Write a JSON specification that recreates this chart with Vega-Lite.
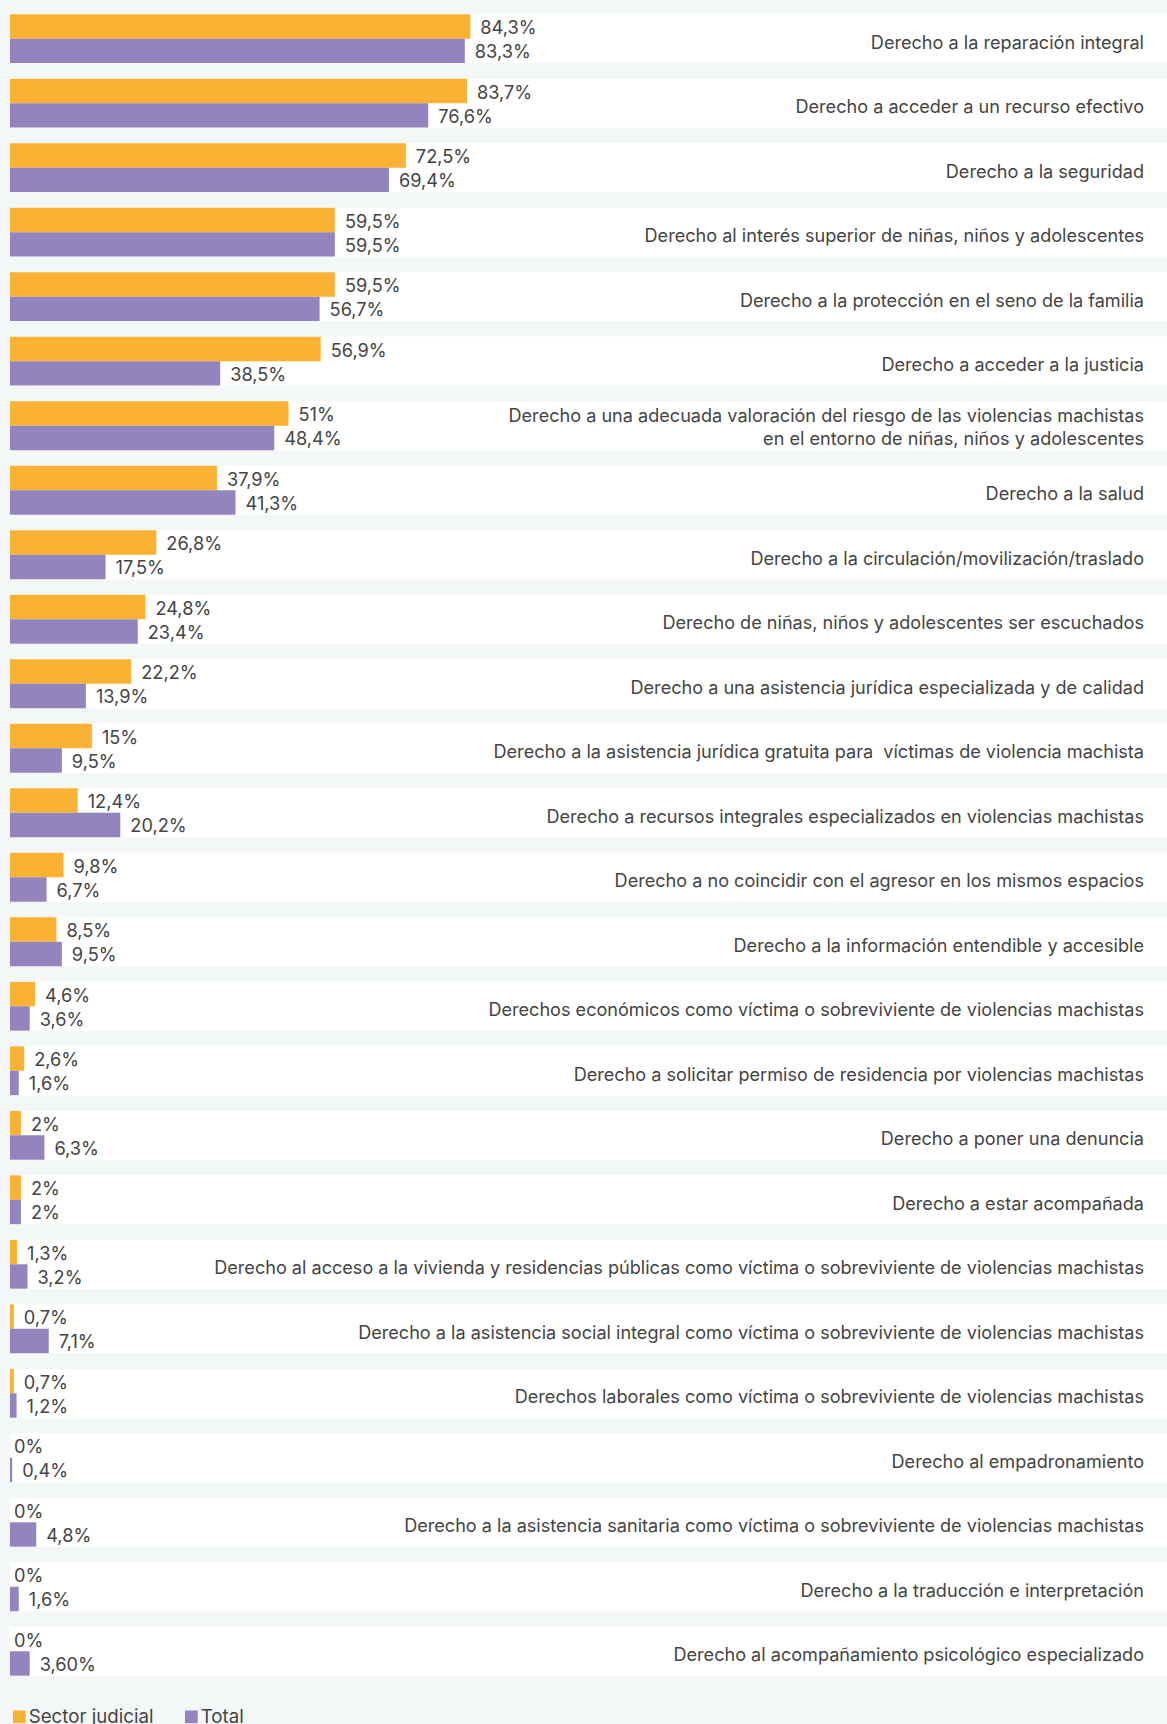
{
  "$schema": "https://vega.github.io/schema/vega-lite/v6.json",
  "width": 1157,
  "height": 1690,
  "padding": {"left": 10, "top": 0, "right": 0, "bottom": 34},
  "autosize": {"type": "none"},
  "background": "#F4F7F7",
  "config": {"view": {"stroke": null}, "font": "Inter"},
  "data": {"values": [
    {"c": "Derecho a la reparación integral", "s": "Sector judicial", "v": 84.3, "t": "84,3%"},
    {"c": "Derecho a la reparación integral", "s": "Total", "v": 83.3, "t": "83,3%"},
    {"c": "Derecho a acceder a un recurso efectivo", "s": "Sector judicial", "v": 83.7, "t": "83,7%"},
    {"c": "Derecho a acceder a un recurso efectivo", "s": "Total", "v": 76.6, "t": "76,6%"},
    {"c": "Derecho a la seguridad", "s": "Sector judicial", "v": 72.5, "t": "72,5%"},
    {"c": "Derecho a la seguridad", "s": "Total", "v": 69.4, "t": "69,4%"},
    {"c": "Derecho al interés superior de niñas, niños y adolescentes", "s": "Sector judicial", "v": 59.5, "t": "59,5%"},
    {"c": "Derecho al interés superior de niñas, niños y adolescentes", "s": "Total", "v": 59.5, "t": "59,5%"},
    {"c": "Derecho a la protección en el seno de la familia", "s": "Sector judicial", "v": 59.5, "t": "59,5%"},
    {"c": "Derecho a la protección en el seno de la familia", "s": "Total", "v": 56.7, "t": "56,7%"},
    {"c": "Derecho a acceder a la justicia", "s": "Sector judicial", "v": 56.9, "t": "56,9%"},
    {"c": "Derecho a acceder a la justicia", "s": "Total", "v": 38.5, "t": "38,5%"},
    {"c": "Derecho a una adecuada valoración del riesgo de las violencias machistas|en el entorno de niñas, niños y adolescentes", "s": "Sector judicial", "v": 51, "t": "51%"},
    {"c": "Derecho a una adecuada valoración del riesgo de las violencias machistas|en el entorno de niñas, niños y adolescentes", "s": "Total", "v": 48.4, "t": "48,4%"},
    {"c": "Derecho a la salud", "s": "Sector judicial", "v": 37.9, "t": "37,9%"},
    {"c": "Derecho a la salud", "s": "Total", "v": 41.3, "t": "41,3%"},
    {"c": "Derecho a la circulación/movilización/traslado", "s": "Sector judicial", "v": 26.8, "t": "26,8%"},
    {"c": "Derecho a la circulación/movilización/traslado", "s": "Total", "v": 17.5, "t": "17,5%"},
    {"c": "Derecho de niñas, niños y adolescentes ser escuchados", "s": "Sector judicial", "v": 24.8, "t": "24,8%"},
    {"c": "Derecho de niñas, niños y adolescentes ser escuchados", "s": "Total", "v": 23.4, "t": "23,4%"},
    {"c": "Derecho a una asistencia jurídica especializada y de calidad", "s": "Sector judicial", "v": 22.2, "t": "22,2%"},
    {"c": "Derecho a una asistencia jurídica especializada y de calidad", "s": "Total", "v": 13.9, "t": "13,9%"},
    {"c": "Derecho a la asistencia jurídica gratuita para\u00a0 víctimas de violencia machista", "s": "Sector judicial", "v": 15, "t": "15%"},
    {"c": "Derecho a la asistencia jurídica gratuita para\u00a0 víctimas de violencia machista", "s": "Total", "v": 9.5, "t": "9,5%"},
    {"c": "Derecho a recursos integrales especializados en violencias machistas", "s": "Sector judicial", "v": 12.4, "t": "12,4%"},
    {"c": "Derecho a recursos integrales especializados en violencias machistas", "s": "Total", "v": 20.2, "t": "20,2%"},
    {"c": "Derecho a no coincidir con el agresor en los mismos espacios", "s": "Sector judicial", "v": 9.8, "t": "9,8%"},
    {"c": "Derecho a no coincidir con el agresor en los mismos espacios", "s": "Total", "v": 6.7, "t": "6,7%"},
    {"c": "Derecho a la información entendible y accesible", "s": "Sector judicial", "v": 8.5, "t": "8,5%"},
    {"c": "Derecho a la información entendible y accesible", "s": "Total", "v": 9.5, "t": "9,5%"},
    {"c": "Derechos económicos como víctima o sobreviviente de violencias machistas", "s": "Sector judicial", "v": 4.6, "t": "4,6%"},
    {"c": "Derechos económicos como víctima o sobreviviente de violencias machistas", "s": "Total", "v": 3.6, "t": "3,6%"},
    {"c": "Derecho a solicitar permiso de residencia por violencias machistas", "s": "Sector judicial", "v": 2.6, "t": "2,6%"},
    {"c": "Derecho a solicitar permiso de residencia por violencias machistas", "s": "Total", "v": 1.6, "t": "1,6%"},
    {"c": "Derecho a poner una denuncia", "s": "Sector judicial", "v": 2, "t": "2%"},
    {"c": "Derecho a poner una denuncia", "s": "Total", "v": 6.3, "t": "6,3%"},
    {"c": "Derecho a estar acompañada", "s": "Sector judicial", "v": 2, "t": "2%"},
    {"c": "Derecho a estar acompañada", "s": "Total", "v": 2, "t": "2%"},
    {"c": "Derecho al acceso a la vivienda y residencias públicas como víctima o sobreviviente de violencias machistas", "s": "Sector judicial", "v": 1.3, "t": "1,3%"},
    {"c": "Derecho al acceso a la vivienda y residencias públicas como víctima o sobreviviente de violencias machistas", "s": "Total", "v": 3.2, "t": "3,2%"},
    {"c": "Derecho a la asistencia social integral como víctima o sobreviviente de violencias machistas", "s": "Sector judicial", "v": 0.7, "t": "0,7%"},
    {"c": "Derecho a la asistencia social integral como víctima o sobreviviente de violencias machistas", "s": "Total", "v": 7.1, "t": "7,1%"},
    {"c": "Derechos laborales como víctima o sobreviviente de violencias machistas", "s": "Sector judicial", "v": 0.7, "t": "0,7%"},
    {"c": "Derechos laborales como víctima o sobreviviente de violencias machistas", "s": "Total", "v": 1.2, "t": "1,2%"},
    {"c": "Derecho al empadronamiento", "s": "Sector judicial", "v": 0, "t": "0%"},
    {"c": "Derecho al empadronamiento", "s": "Total", "v": 0.4, "t": "0,4%"},
    {"c": "Derecho a la asistencia sanitaria como víctima o sobreviviente de violencias machistas", "s": "Sector judicial", "v": 0, "t": "0%"},
    {"c": "Derecho a la asistencia sanitaria como víctima o sobreviviente de violencias machistas", "s": "Total", "v": 4.8, "t": "4,8%"},
    {"c": "Derecho a la traducción e interpretación", "s": "Sector judicial", "v": 0, "t": "0%"},
    {"c": "Derecho a la traducción e interpretación", "s": "Total", "v": 1.6, "t": "1,6%"},
    {"c": "Derecho al acompañamiento psicológico especializado", "s": "Sector judicial", "v": 0, "t": "0%"},
    {"c": "Derecho al acompañamiento psicológico especializado", "s": "Total", "v": 3.6, "t": "3,60%"}
  ]},
  "encoding": {
    "y": {
      "field": "c", "type": "nominal", "sort": null,
      "scale": {"paddingInner": 0.2434, "paddingOuter": 0.2217},
      "axis": {
        "orient": "right", "title": null, "domain": false, "ticks": false, "tickSize": 0,
        "labelPadding": -23.5, "labelAlign": "right", "labelBaseline": "middle",
        "labelFont": "Inter", "labelFontSize": 18.1, "labelColor": "#444444",
        "labelLimit": 0, "labelOverlap": false, "labelExpr": "split(datum.label, '|')",
        "labelLineHeight": 23, "zindex": 2,
        "labelOffset": {"condition": {"test": "indexof(datum.value, '|') >= 0", "value": -9}, "value": 5}
      }
    }
  },
  "layer": [
    {
      "mark": {"type": "bar", "color": "#FFFFFF"},
      "encoding": {
        "x": {"datum": 0, "type": "quantitative", "scale": {"domain": [0, 211.9], "nice": false, "zero": false}, "axis": null},
        "x2": {"datum": 211.9}
      }
    },
    {
      "mark": {"type": "bar"},
      "encoding": {
        "x": {"field": "v", "type": "quantitative", "axis": null},
        "x2": {"datum": 0},
        "yOffset": {"field": "s", "type": "nominal", "sort": ["Sector judicial", "Total"], "scale": {"paddingInner": 0, "paddingOuter": 0}},
        "color": {
          "field": "s", "type": "nominal",
          "scale": {"domain": ["Sector judicial", "Total"], "range": ["#F9B234", "#9384BD"]},
          "legend": {
            "orient": "none", "legendX": 0, "legendY": 1707, "direction": "horizontal",
            "title": null, "symbolType": "square", "symbolSize": 161, "symbolStrokeWidth": 0,
            "symbolOpacity": 1, "labelFont": "Inter", "labelFontSize": 18.7, "labelColor": "#444444",
            "columnPadding": 28, "labelOffset": 0, "padding": 0
          }
        }
      }
    },
    {
      "mark": {"type": "text", "align": "left", "baseline": "middle", "dy": 2.5, "dx": {"expr": "datum.v == 0 ? 4 : 10"}, "font": "Inter", "fontSize": 18.2, "color": "#444444"},
      "encoding": {
        "x": {"field": "v", "type": "quantitative", "axis": null},
        "yOffset": {"field": "s", "type": "nominal", "sort": ["Sector judicial", "Total"]},
        "text": {"field": "t"}
      }
    }
  ]
}
